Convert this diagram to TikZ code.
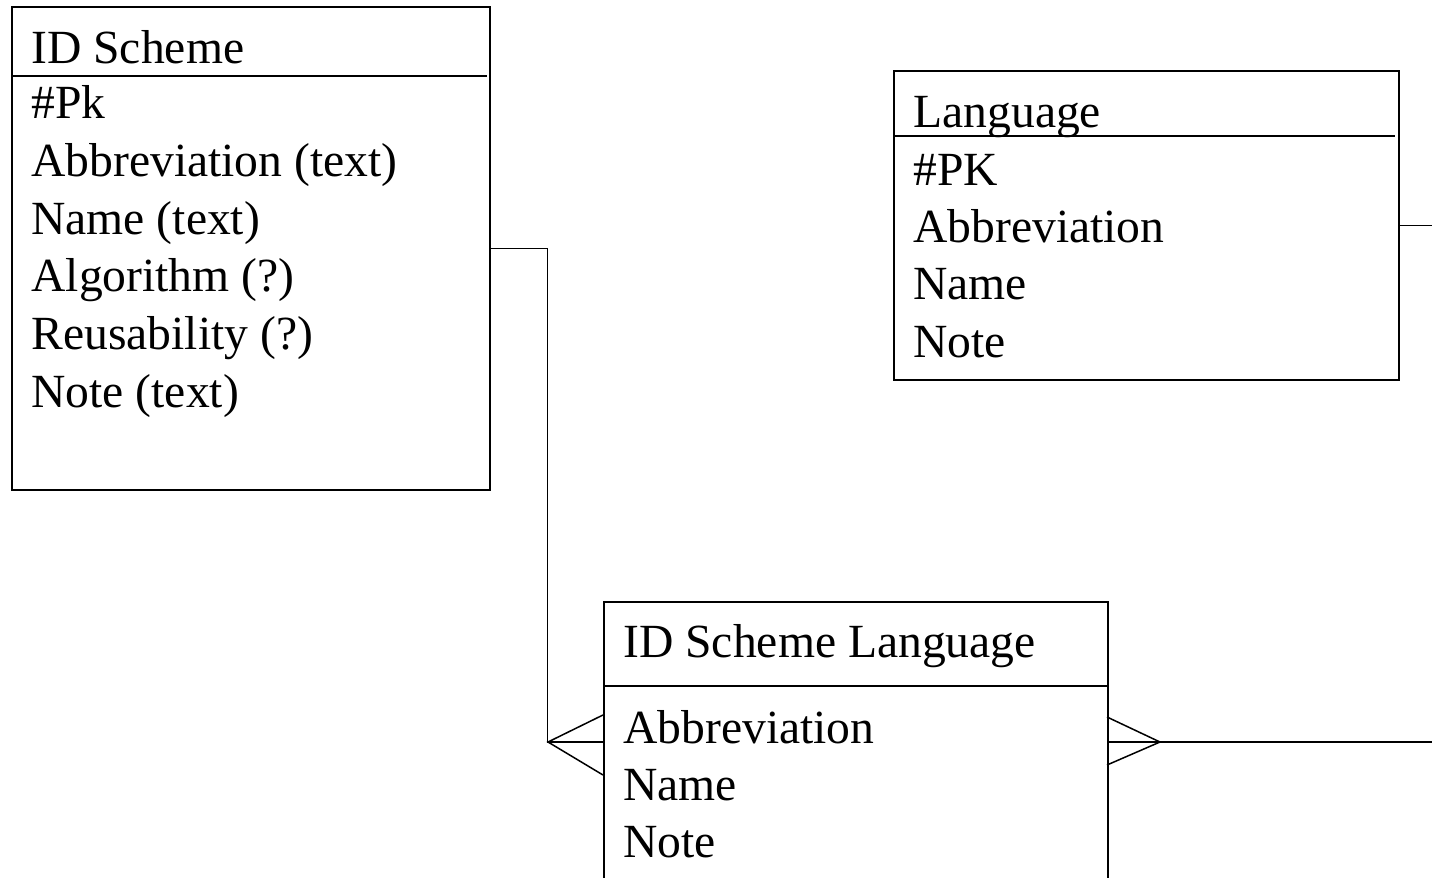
\documentclass[tikz,border=0pt]{standalone}
\usepackage{fontspec}
\setmainfont{Liberation Serif}
\begin{document}
\begin{tikzpicture}[x=0.5pt,y=-0.5pt,line join=miter,
    entity/.style={draw,line width=1pt,inner sep=0pt,anchor=north west},
    field/.style={anchor=base west,inner sep=0pt,font=\fontsize{23.8}{28}\selectfont},
    link/.style={line width=0.75pt}]
    \clip (0,0) rectangle (1432,878);

    % ID Scheme
    \node[entity,minimum width=239pt,minimum height=241.5pt] (scheme) at (10.5,6) {};
    \draw[line width=1pt] (11,76) -- (487,76);
    \node[field] (schemetitle) at (31,63) {ID Scheme};
    \foreach \lab [count=\i] in {\#Pk,Abbreviation (text),Name (text),Algorithm (?),Reusability (?),Note (text)} {
        \node[field] (scheme\i) at (31,{119+57.6*(\i-1)}) {\lab};
    }

    % Language
    \node[entity,minimum width=252.5pt,minimum height=154.5pt] (lang) at (892.5,70) {};
    \draw[line width=1pt] (895,136) -- (1395,136);
    \node[field] (langtitle) at (913,127) {Language};
    \foreach \lab [count=\i] in {\#PK,Abbreviation,Name,Note} {
        \node[field] (lang\i) at (913,{185+57.4*(\i-1)}) {\lab};
    }

    % ID Scheme Language
    \node[entity,minimum width=252pt,minimum height=160pt] (schemelang) at (602.5,601) {};
    \draw[line width=1pt] (605,686) -- (1107,686);
    \node[field] (schemelangtitle) at (623,657) {ID Scheme Language};
    \foreach \lab [count=\i] in {Abbreviation,Name,Note} {
        \node[field] (schemelang\i) at (623,{743+57*(\i-1)}) {\lab};
    }

    % connectors with crow's feet
    \coordinate (crowL) at (603,742);
    \coordinate (tipL) at (548,742);
    \coordinate (crowR) at (1107,742);
    \coordinate (tipR) at (1160,742);
    \draw[link] (scheme.east) -- ++(57,0) |- (crowL);
    \draw[link] (crowL |- 0,715) -- (tipL) -- (crowL |- 0,775);
    \draw[link] (lang.east) -- ++(50,0) |- (crowR);
    \draw[link] (crowR |- 0,717) -- (tipR) -- (crowR |- 0,765);
\end{tikzpicture}
\end{document}
